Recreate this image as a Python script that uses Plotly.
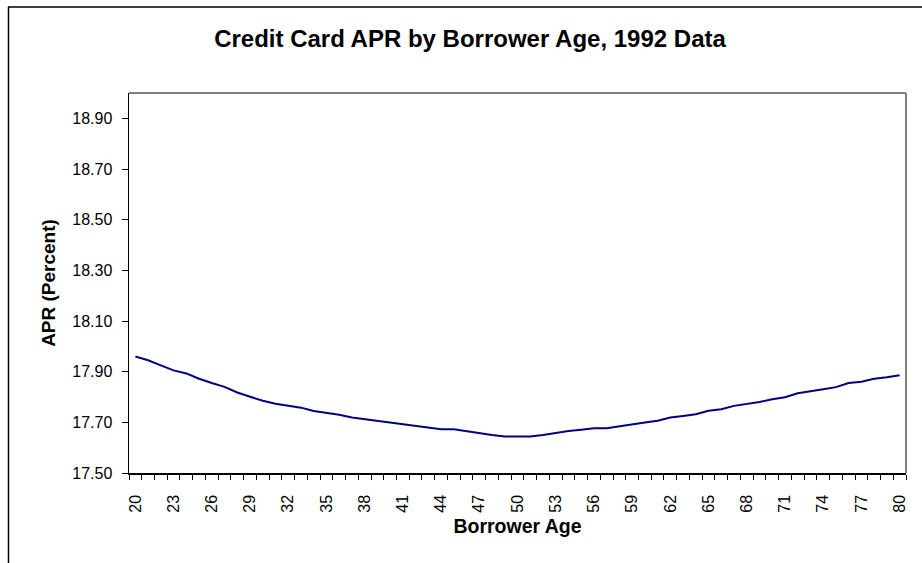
import plotly.graph_objects as go

# Data
ages = list(range(20, 81))
apr = [
    17.960, 17.945, 17.925, 17.905, 17.893, 17.872, 17.855, 17.840, 17.818, 17.800,
    17.785, 17.773, 17.765, 17.758, 17.745, 17.738, 17.730, 17.719, 17.712, 17.706,
    17.698, 17.692, 17.685, 17.678, 17.673, 17.673, 17.665, 17.657, 17.650, 17.644,
    17.644, 17.644, 17.650, 17.658, 17.666, 17.671, 17.677, 17.677, 17.685, 17.692,
    17.699, 17.706, 17.719, 17.725, 17.732, 17.746, 17.752, 17.765, 17.772, 17.780,
    17.791, 17.799, 17.815, 17.822, 17.831, 17.839, 17.855, 17.860, 17.872, 17.878,
    17.886,
]
x_tick_labels = [str(a) for a in range(20, 81, 3)]
y_ticks = [17.50, 17.70, 17.90, 18.10, 18.30, 18.50, 18.70, 18.90]

W, H = 922, 563
L, R, T, B = 129, 16, 93, 90
pw, ph = W - L - R, H - T - B

FONT = "Arial, Liberation Sans, sans-serif"

fig = go.Figure()
fig.add_trace(go.Scatter(
    x=ages, y=apr, mode="lines",
    line=dict(color="#000080", width=2),
    hoverinfo="x+y", showlegend=False,
))

def px2paper_x(px):
    return (px - L) / pw

def px2paper_y(py):
    return 1 - (py - T) / ph

shapes = [
    # plot area top and right border (gray)
    dict(type="line", xref="paper", yref="paper", x0=0, x1=1, y0=1, y1=1,
         line=dict(color="#808080", width=2)),
    dict(type="line", xref="paper", yref="paper", x0=1, x1=1, y0=0, y1=1,
         line=dict(color="#808080", width=2)),
    # outer chart area border (top and left visible)
    dict(type="line", xref="paper", yref="paper",
         x0=px2paper_x(8), x1=px2paper_x(W + 5), y0=px2paper_y(7), y1=px2paper_y(7),
         line=dict(color="#404040", width=2)),
    dict(type="line", xref="paper", yref="paper",
         x0=px2paper_x(8.5), x1=px2paper_x(8.5), y0=px2paper_y(7), y1=px2paper_y(H + 5),
         line=dict(color="#000000", width=1.5)),
]

fig.update_layout(
    width=W, height=H,
    margin=dict(l=L, r=R, t=T, b=B, pad=0),
    paper_bgcolor="white", plot_bgcolor="white",
    font=dict(family=FONT, color="black", size=16),
    title=dict(
        text="<b>Credit Card APR by Borrower Age, 1992 Data</b>",
        x=470 / W, xref="container", xanchor="center",
        y=1 - 39 / H, yref="container", yanchor="middle",
        font=dict(size=24, family=FONT, color="black"),
    ),
    shapes=shapes,
    xaxis=dict(
        range=[19.5, 80.5],
        tickmode="array",
        tickvals=list(range(20, 81, 3)),
        ticktext=x_tick_labels,
        tickangle=-90,
        ticks="outside", ticklen=0, tickcolor="black",
        ticklabelstandoff=14,
        showgrid=False, zeroline=False,
        showline=True, linecolor="black", linewidth=1.5,
        tickfont=dict(size=16, family=FONT, color="black"),
        minor=dict(ticks="outside", ticklen=5, tickcolor="black", tickwidth=1,
                   tick0=19.5, dtick=1, showgrid=False),
        title=dict(text="<b>Borrower Age</b>", standoff=7,
                   font=dict(size=19.5, family=FONT, color="black")),
        fixedrange=True,
    ),
    yaxis=dict(
        range=[17.5, 19.0],
        tickmode="array",
        tickvals=y_ticks,
        ticktext=[f"{v:.2f}" for v in y_ticks],
        ticks="outside", ticklen=6, tickcolor="black", tickwidth=1,
        ticklabelstandoff=6,
        showgrid=False, zeroline=False,
        showline=True, linecolor="black", linewidth=1.5,
        tickfont=dict(size=16, family=FONT, color="black"),
        title=dict(text="<b>APR (Percent)</b>", standoff=11,
                   font=dict(size=19, family=FONT, color="black")),
        fixedrange=True,
    ),
)

fig.write_html(
    "out.html",
    config={"displayModeBar": False, "staticPlot": True},
    post_script="document.body.style.margin='0';document.body.style.overflow='hidden';",
)
